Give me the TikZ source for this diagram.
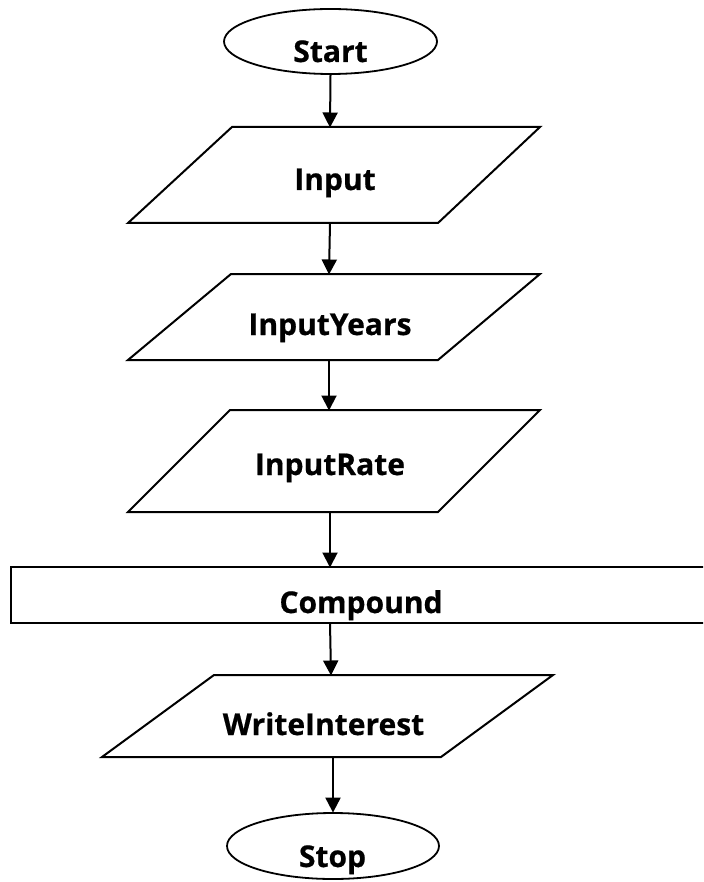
\documentclass[tikz,border=0pt]{standalone}
\usepackage{fontspec}
\setmainfont{Open Sans}[BoldFeatures={FakeBold=0.6}]
\usetikzlibrary{arrows.meta,shapes.geometric}
\tikzset{
  shp/.style={draw=black, line width=2pt, line join=miter},
  term/.style={ellipse, draw=black, line width=1.8pt, inner sep=0pt},
  lbl/.style={anchor=base, inner sep=0pt, font=\fontsize{30}{32}\selectfont\bfseries},
  arr/.style={draw=black, line width=2pt, -{Triangle[length=15pt,width=15pt]}, shorten >=-0.5pt},
}
\begin{document}
\begin{tikzpicture}[x=1pt,y=-1pt]
\useasboundingbox (0,0) rectangle (703,882);
\clip (0,0) rectangle (703,882);
% Start
\node[term, minimum width=213pt, minimum height=65pt] (start) at (330.5,41.5) {};
\node[lbl] (startT) at (330.5,62) {Start};
% Input
\draw[shp] (128,223) -- (232,127) -- (540,127) -- (438,223) -- cycle;
\coordinate (inputN) at (330,127);
\coordinate (inputS) at (330,223);
\node[lbl] (inputT) at (335,190) {Input};
% InputYears
\draw[shp] (128,360) -- (231,274) -- (540,274) -- (438,360) -- cycle;
\coordinate (yearsN) at (329,274);
\coordinate (yearsS) at (329,360);
\node[lbl] (yearsT) at (330,335) {InputYears};
% InputRate
\draw[shp] (128,512) -- (230,410) -- (540,410) -- (438,512) -- cycle;
\coordinate (rateN) at (329,410);
\coordinate (rateS) at (330,512);
\node[lbl] (rateT) at (330,475) {InputRate};
% Compound
\draw[shp, line width=2.4pt] (720,567) -- (11,567) -- (11,623) -- (720,623);
\coordinate (compN) at (330,567);
\coordinate (compS) at (330,623);
\node[lbl] (compT) at (361,613) {Compound};
% WriteInterest
\draw[shp] (102,757) -- (214,675) -- (553,675) -- (441,757) -- cycle;
\coordinate (writeN) at (331,675);
\coordinate (writeS) at (333,757);
\node[lbl] (writeT) at (323.5,735) {WriteInterest};
% Stop
\node[term, minimum width=212pt, minimum height=66pt] (stop) at (333,846) {};
\node[lbl] (stopT) at (332.5,867) {Stop};
% connectors
\draw[arr] (start.south) -- (inputN);
\draw[arr] (inputS) -- (yearsN);
\draw[arr] (yearsS) -- (rateN);
\draw[arr] (rateS) -- (compN);
\draw[arr] (compS) -- (writeN);
\draw[arr] (writeS) -- (stop.north);
\end{tikzpicture}
\end{document}
